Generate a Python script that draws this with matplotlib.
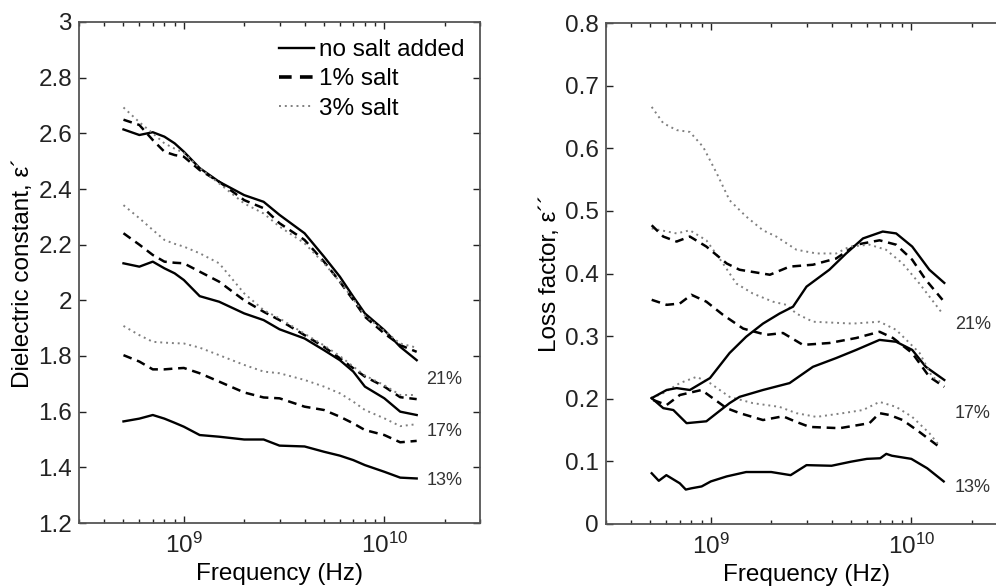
import numpy as np
import matplotlib
matplotlib.use("Agg")
import matplotlib.pyplot as plt
from matplotlib.ticker import FormatStrFormatter, LogLocator, NullFormatter

plt.rcParams['font.family'] = ['Liberation Sans', 'DejaVu Sans']
plt.rcParams['mathtext.fontset'] = 'custom'
plt.rcParams['mathtext.rm'] = 'Liberation Sans'

# frequency grid for the dielectric constant panel (GHz)
freq_left = [0.5, 0.6, 0.7, 0.8, 0.9, 1.0, 1.2, 1.5, 2.0, 2.5, 3.0, 4.0, 5.0, 6.0, 7.0, 8.0, 10, 12, 14.5]

# dielectric constant, moisture 13 / 17 / 21 %, salt 0 / 1 / 3 %
eps1_13_0 = [1.565, 1.575, 1.588, 1.575, 1.56, 1.546, 1.516, 1.51, 1.50, 1.50, 1.478, 1.475, 1.456, 1.442, 1.426, 1.408, 1.384, 1.363, 1.36]
eps1_13_1 = [1.803, 1.78, 1.752, 1.752, 1.755, 1.757, 1.738, 1.708, 1.669, 1.651, 1.648, 1.618, 1.606, 1.582, 1.558, 1.534, 1.516, 1.49, 1.495]
eps1_13_3 = [1.908, 1.875, 1.851, 1.848, 1.846, 1.845, 1.830, 1.803, 1.768, 1.744, 1.738, 1.714, 1.690, 1.666, 1.636, 1.606, 1.576, 1.548, 1.555]
eps1_17_0 = [2.133, 2.121, 2.139, 2.115, 2.097, 2.073, 2.015, 1.995, 1.953, 1.929, 1.896, 1.863, 1.821, 1.785, 1.744, 1.690, 1.648, 1.600, 1.588]
eps1_17_1 = [2.241, 2.2, 2.163, 2.139, 2.135, 2.133, 2.103, 2.067, 2.0, 1.959, 1.929, 1.875, 1.833, 1.792, 1.756, 1.726, 1.690, 1.652, 1.645]
eps1_17_3 = [2.342, 2.295, 2.253, 2.217, 2.203, 2.193, 2.169, 2.133, 2.025, 1.965, 1.935, 1.88, 1.838, 1.80, 1.762, 1.73, 1.695, 1.66, 1.66]
eps1_21_0 = [2.614, 2.594, 2.604, 2.588, 2.564, 2.534, 2.475, 2.426, 2.378, 2.354, 2.307, 2.241, 2.157, 2.085, 2.013, 1.953, 1.893, 1.833, 1.785]
eps1_21_1 = [2.649, 2.630, 2.576, 2.534, 2.522, 2.516, 2.468, 2.426, 2.360, 2.331, 2.277, 2.217, 2.139, 2.067, 2.001, 1.941, 1.881, 1.839, 1.815]
eps1_21_3 = [2.693, 2.64, 2.60, 2.564, 2.545, 2.53, 2.475, 2.42, 2.348, 2.312, 2.265, 2.205, 2.133, 2.067, 2.005, 1.945, 1.89, 1.845, 1.83]

# loss factor curves (each with its own frequency points, GHz)
f2_13_0 = [0.507, 0.55, 0.6, 0.7, 0.75, 0.8, 0.9, 1.0, 1.2, 1.5, 2.0, 2.5, 3.0, 4.0, 5.0, 6.0, 7.0, 7.5, 8.0, 10, 12, 14.5]
eps2_13_0 = [0.081, 0.069, 0.078, 0.065, 0.055, 0.057, 0.060, 0.068, 0.076, 0.083, 0.083, 0.078, 0.094, 0.093, 0.0995, 0.104, 0.105, 0.112, 0.109, 0.104, 0.089, 0.068]
f2_13_1 = [0.516, 0.602, 0.701, 0.899, 1.197, 1.394, 1.82, 2.29, 2.67, 3.11, 4.39, 6.18, 6.94, 7.8, 9.05, 10.97, 13.8]
eps2_13_1 = [0.198, 0.190, 0.206, 0.214, 0.185, 0.177, 0.166, 0.172, 0.163, 0.155, 0.153, 0.161, 0.177, 0.174, 0.166, 0.147, 0.123]
f2_13_3 = [0.507, 0.579, 0.70, 0.849, 0.99, 1.24, 1.62, 2.2, 2.67, 3.36, 4.56, 5.74, 6.94, 8.4, 10.1, 12.3, 13.8]
eps2_13_3 = [0.201, 0.209, 0.225, 0.235, 0.225, 0.203, 0.193, 0.187, 0.177, 0.171, 0.177, 0.182, 0.195, 0.187, 0.171, 0.145, 0.125]
f2_17_0 = [0.507, 0.579, 0.65, 0.757, 0.95, 1.07, 1.24, 1.39, 1.82, 2.47, 3.23, 4.22, 5.31, 6.94, 8.4, 10.1, 11.8, 14.6]
eps2_17_0 = [0.201, 0.185, 0.182, 0.161, 0.164, 0.177, 0.193, 0.203, 0.214, 0.225, 0.251, 0.265, 0.278, 0.294, 0.291, 0.278, 0.251, 0.230]
f2_17_1 = [0.507, 0.602, 0.70, 0.80, 0.95, 1.15, 1.45, 1.89, 2.29, 2.88, 3.9, 5.31, 6.94, 8.1, 10.1, 12.3, 14.6]
eps2_17_1 = [0.358, 0.350, 0.352, 0.366, 0.355, 0.334, 0.312, 0.302, 0.305, 0.286, 0.289, 0.297, 0.307, 0.297, 0.273, 0.235, 0.219]
f2_17_3 = [0.507, 0.675, 0.786, 0.95, 1.15, 1.34, 1.62, 2.04, 2.38, 2.67, 3.23, 5.1, 6.94, 8.4, 11.0, 12.7, 14.3]
eps2_17_3 = [0.472, 0.464, 0.469, 0.453, 0.416, 0.384, 0.368, 0.355, 0.350, 0.336, 0.323, 0.320, 0.323, 0.310, 0.273, 0.235, 0.225]
f2_21_0 = [0.507, 0.602, 0.675, 0.786, 0.99, 1.24, 1.50, 1.82, 2.2, 2.57, 3.0, 3.9, 4.73, 5.74, 7.2, 8.4, 10.1, 12.3, 14.6]
eps2_21_0 = [0.201, 0.214, 0.217, 0.214, 0.233, 0.273, 0.299, 0.320, 0.336, 0.347, 0.379, 0.406, 0.432, 0.456, 0.467, 0.464, 0.443, 0.406, 0.385]
f2_21_1 = [0.507, 0.579, 0.675, 0.786, 0.95, 1.20, 1.39, 1.97, 2.47, 3.23, 4.22, 5.31, 6.94, 8.4, 10.1, 11.8, 14.3]
eps2_21_1 = [0.477, 0.459, 0.451, 0.459, 0.443, 0.416, 0.406, 0.398, 0.411, 0.414, 0.424, 0.446, 0.453, 0.446, 0.422, 0.390, 0.358]
f2_21_3 = [0.507, 0.579, 0.675, 0.786, 0.916, 1.07, 1.24, 1.50, 1.82, 2.12, 2.67, 3.36, 4.22, 4.93, 6.18, 7.47, 9.05, 10.97, 14.3]
eps2_21_3 = [0.666, 0.640, 0.629, 0.626, 0.602, 0.560, 0.517, 0.491, 0.469, 0.459, 0.438, 0.432, 0.432, 0.443, 0.446, 0.438, 0.416, 0.384, 0.336]

legend_labels = ['no salt added', '1% salt', '3% salt']
moisture_labels = ['21%', '17%', '13%']
label_y_left = [1.714, 1.527, 1.354]
label_y_right = [0.319, 0.176, 0.0575]

styles = [
    dict(color='black', lw=1.7, linestyle='-'),
    dict(color='black', lw=1.8, linestyle=(0, (3.5, 2.3))),
    dict(color='#808080', lw=1.4, linestyle=(0, (1, 2))),
]

fig = plt.figure(figsize=(9.96, 5.88), dpi=100)
ax1 = fig.add_axes([79 / 996, 65 / 588, 401 / 996, 501 / 588])
ax2 = fig.add_axes([606 / 996, 64 / 588, 401 / 996, 501 / 588])

fl = np.array(freq_left) * 1e9
for curves in ([eps1_13_0, eps1_13_1, eps1_13_3],
               [eps1_17_0, eps1_17_1, eps1_17_3],
               [eps1_21_0, eps1_21_1, eps1_21_3]):
    for vals, st in zip(curves, styles):
        ax1.plot(fl, vals, **st)

right_sets = [
    [(f2_13_0, eps2_13_0), (f2_13_1, eps2_13_1), (f2_13_3, eps2_13_3)],
    [(f2_17_0, eps2_17_0), (f2_17_1, eps2_17_1), (f2_17_3, eps2_17_3)],
    [(f2_21_0, eps2_21_0), (f2_21_1, eps2_21_1), (f2_21_3, eps2_21_3)],
]
for group in right_sets:
    for (f, vals), st in zip(group, styles):
        ax2.plot(np.array(f) * 1e9, vals, **st)

for ax in (ax1, ax2):
    ax.set_xscale('log')
    ax.set_xlim(3e8, 3e10)
    ax.xaxis.set_major_locator(LogLocator(base=10, numticks=10))
    ax.xaxis.set_minor_locator(LogLocator(base=10, subs=np.arange(2, 10), numticks=20))
    ax.xaxis.set_minor_formatter(NullFormatter())
    ax.yaxis.set_major_formatter(FormatStrFormatter('%g'))
    ax.tick_params(which='both', direction='in', top=True, right=True,
                   labelsize=17.5, colors='#222222', width=1.0)
    ax.tick_params(which='major', length=5, pad=5)
    ax.tick_params(axis='x', which='major', pad=7)
    ax.tick_params(which='minor', length=3)
    for sp in ax.spines.values():
        sp.set_color('#555555')
        sp.set_linewidth(1.3)
    ax.set_xlabel('Frequency (Hz)', fontsize=17.5, labelpad=4)

ax1.set_ylim(1.2, 3.0)
ax1.set_yticks(np.arange(1.2, 3.01, 0.2))
ax1.set_ylabel('Dielectric constant, \u03b5\u00b4', fontsize=17.5, labelpad=3)
ax2.set_ylim(0, 0.8)
ax2.set_yticks(np.arange(0, 0.81, 0.1))
ax2.set_ylabel('Loss factor, \u03b5\u00b4\u00b4', fontsize=17.5, labelpad=3)

for lab, y in zip(moisture_labels, label_y_left):
    ax1.text(1.62e10, y, lab, fontsize=13, color='#333333', ha='left', va='center')
for lab, y in zip(moisture_labels, label_y_right):
    ax2.text(1.65e10, y, lab, fontsize=13, color='#333333', ha='left', va='center')

handles = [plt.Line2D([], [], **st) for st in styles]
handles[1].set_linewidth(2.6)
ax1.legend(handles, legend_labels, loc='upper left', bbox_to_anchor=(0.463, 0.995),
           frameon=False, fontsize=17.5, handlelength=1.45, handletextpad=0.2,
           labelspacing=0.3, borderaxespad=0.2)

fig.savefig('out.png', dpi=100)
